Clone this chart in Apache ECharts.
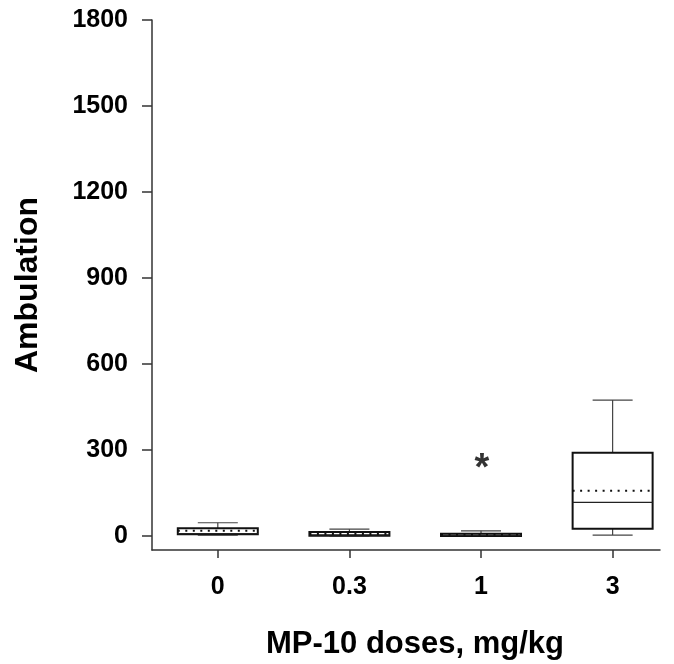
<!DOCTYPE html>
<html>
<head>
<meta charset="utf-8">
<script src="https://cdn.jsdelivr.net/npm/echarts@6/dist/echarts.min.js"></script>
<style>html,body{margin:0;padding:0;background:#fff;}#c{width:674px;height:664px;}</style>
</head>
<body>
<div id="c"></div>
<script>
const categories = ['0', '0.3', '1', '3'];
const mins    = [3, 0, 0, 3];
const q1s     = [6, 1, 0, 25];
const medians = [8, 4, 2, 117];
const q3s     = [27, 14, 8, 290];
const maxs    = [46, 24, 18, 474];
const means   = [18, 7, 4, 158];
const yTicks  = [0, 300, 600, 900, 1200, 1500, 1800];
const asterisk = [[2, 258]];

const FONT = "'Liberation Sans', Arial, sans-serif";
const boxData = categories.map((c, i) => [i, mins[i], q1s[i], medians[i], q3s[i], maxs[i], means[i]]);

const chart = echarts.init(document.getElementById('c'), null, {renderer: 'canvas'});
chart.setOption({
  animation: false,
  backgroundColor: '#fff',
  grid: {left: 152, top: 20, right: 14, bottom: 114, outerBoundsMode: 'none', containLabel: false},
  xAxis: {
    type: 'value', min: -0.5, max: 3.36,
    name: 'MP-10 doses, mg/kg', nameLocation: 'middle', nameGap: 79,
    nameTextStyle: {fontFamily: FONT, fontWeight: 'bold', fontSize: 31, color: '#000', padding: [0, 0, 0, 18]},
    axisLine: {show: true, onZero: false, lineStyle: {color: '#333', width: 1.5}},
    axisTick: {show: true, length: 8, customValues: [0, 1, 2, 3], lineStyle: {color: '#333', width: 1.5}},
    axisLabel: {customValues: [0, 1, 2, 3], formatter: v => categories[v], margin: 25,
      fontFamily: FONT, fontWeight: 'bold', fontSize: 25, color: '#000'},
    splitLine: {show: false}
  },
  yAxis: {
    type: 'value', min: -49, max: 1800,
    name: 'Ambulation', nameLocation: 'middle', nameGap: 108, nameRotate: 90,
    nameTextStyle: {fontFamily: FONT, fontWeight: 'bold', fontSize: 32, color: '#000'},
    axisLine: {show: true, onZero: false, lineStyle: {color: '#333', width: 1.5}},
    axisTick: {show: true, length: 10, customValues: yTicks, lineStyle: {color: '#333', width: 1.5}},
    axisLabel: {customValues: yTicks, margin: 24, formatter: v => String(v),
      fontFamily: FONT, fontWeight: 'bold', fontSize: 25, color: '#000'},
    splitLine: {show: false}
  },
  series: [{
    type: 'custom',
    data: boxData,
    encode: {x: 0, y: [1, 2, 3, 4, 5, 6]},
    renderItem: function (params, api) {
      const x = api.value(0);
      const P = v => api.coord([x, v]);
      const pMin = P(api.value(1)), pQ1 = P(api.value(2)), pMed = P(api.value(3)),
            pQ3 = P(api.value(4)), pMax = P(api.value(5)), pMean = P(api.value(6));
      const cx = pMin[0], hw = 40, cw = 20;
      const wStyle = {stroke: '#444', lineWidth: 1.2};
      return {
        type: 'group',
        children: [
          {type: 'line', shape: {x1: cx, y1: pQ3[1], x2: cx, y2: pMax[1]}, style: wStyle},
          {type: 'line', shape: {x1: cx - cw, y1: pMax[1], x2: cx + cw, y2: pMax[1]}, style: wStyle},
          {type: 'line', shape: {x1: cx, y1: pQ1[1], x2: cx, y2: pMin[1]}, style: wStyle},
          {type: 'line', shape: {x1: cx - cw, y1: pMin[1], x2: cx + cw, y2: pMin[1]}, style: wStyle},
          {type: 'rect', shape: {x: cx - hw, y: pQ3[1], width: 2 * hw, height: pQ1[1] - pQ3[1]},
            style: {fill: '#fff', stroke: '#111', lineWidth: 2}},
          {type: 'line', shape: {x1: cx - hw, y1: pMed[1], x2: cx + hw, y2: pMed[1]}, style: {stroke: '#222', lineWidth: 1.2}},
          {type: 'line', shape: {x1: cx - hw, y1: pMean[1], x2: cx + hw, y2: pMean[1]},
            style: {stroke: '#111', lineWidth: 2, lineDash: [2, 5.5]}}
        ]
      };
    }
  }, {
    type: 'scatter',
    data: asterisk,
    symbolSize: 0,
    label: {show: true, position: 'inside', formatter: '*', offset: [1, 8],
      fontFamily: FONT, fontWeight: 'bold', fontSize: 38, color: '#000'}
  }]
});
</script>
</body>
</html>
